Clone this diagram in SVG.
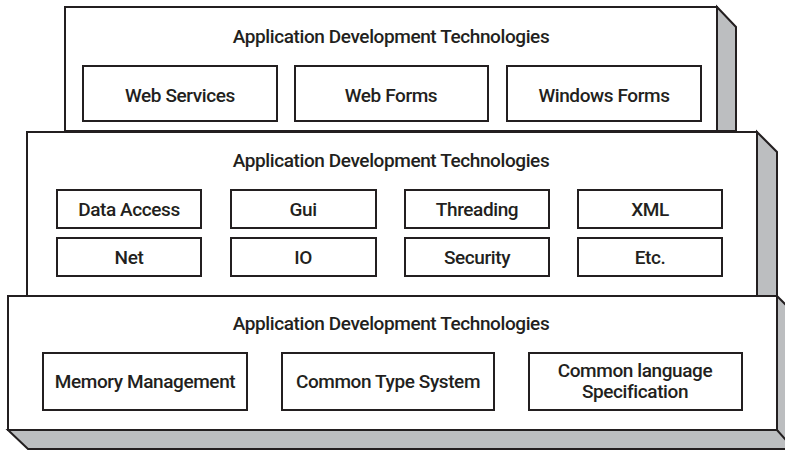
<svg xmlns="http://www.w3.org/2000/svg" width="785" height="450" viewBox="0 0 785 450">
<style>
.front{fill:#ffffff;stroke:#231f20;stroke-width:2}
.side{fill:#bcbec0;stroke:#231f20;stroke-width:2;stroke-linejoin:miter}
.box{fill:#ffffff;stroke:#231f20;stroke-width:2}
text{font-family:Roboto,"Liberation Sans",Arial,sans-serif;font-size:19px;font-weight:500;fill:#231f20;text-anchor:middle;letter-spacing:-0.4px}
</style>
<rect width="785" height="450" fill="#ffffff"/>
<g id="layer-top">
<polygon class="side" points="717,7 736,27 736,131 717,131"/>
<rect class="front" x="65" y="7" width="652" height="124"/>
<text x="391" y="43">Application Development Technologies</text>
</g>
<g id="web-services"><rect class="box" x="83" y="66" width="194" height="55"/><text x="180" y="102">Web Services</text></g>
<g id="web-forms"><rect class="box" x="295" y="66" width="193" height="55"/><text x="391" y="102">Web Forms</text></g>
<g id="windows-forms"><rect class="box" x="507" y="66" width="194" height="55"/><text x="604" y="102">Windows Forms</text></g>

<g id="layer-middle">
<polygon class="side" points="757,132 777,152 777,296 757,296"/>
<rect class="front" x="27" y="132" width="730" height="164"/>
<text x="391" y="167">Application Development Technologies</text>
</g>
<g id="data-access"><rect class="box" x="57" y="190" width="144" height="38"/><text x="129" y="216">Data Access</text></g>
<g id="gui"><rect class="box" x="231" y="190" width="145" height="38"/><text x="303" y="216">Gui</text></g>
<g id="threading"><rect class="box" x="405" y="190" width="144" height="38"/><text x="477" y="216">Threading</text></g>
<g id="xml"><rect class="box" x="578" y="190" width="144" height="38"/><text x="650" y="216">XML</text></g>
<g id="net"><rect class="box" x="57" y="238" width="144" height="38"/><text x="129" y="264">Net</text></g>
<g id="io"><rect class="box" x="231" y="238" width="145" height="38"/><text x="303" y="264">IO</text></g>
<g id="security"><rect class="box" x="405" y="238" width="144" height="38"/><text x="477" y="264">Security</text></g>
<g id="etc"><rect class="box" x="578" y="238" width="144" height="38"/><text x="650" y="264">Etc.</text></g>

<g id="layer-bottom">
<polygon class="side" points="777,296 786,305 786,449 777,430"/>
<polygon class="side" points="8,430 28,449 786,449 786,440 777,430"/>
<rect class="front" x="8" y="296" width="769" height="134"/>
<text x="391" y="330">Application Development Technologies</text>
</g>
<g id="memory-management"><rect class="box" x="43" y="353" width="204" height="57"/><text x="145" y="388">Memory Management</text></g>
<g id="common-type-system"><rect class="box" x="282" y="353" width="212" height="57"/><text x="388" y="388">Common Type System</text></g>
<g id="cls"><rect class="box" x="529" y="353" width="213" height="57"/><text x="635" y="377">Common language</text><text x="635" y="398">Specification</text></g>
<g id="connectors"/>
</svg>
